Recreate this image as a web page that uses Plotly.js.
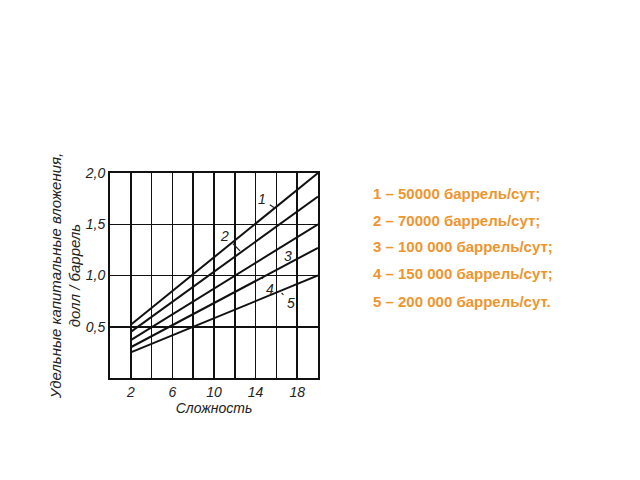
<!DOCTYPE html>
<html>
<head>
<meta charset="utf-8">
<script src="https://cdn.plot.ly/plotly-3.0.1.min.js"></script>
<style>html,body{margin:0;padding:0;background:#fff;}#chart{width:640px;height:480px;}</style>
</head>
<body>
<div id="chart"></div>
<script>
// Data
var complexity = [2, 20];
var line1 = [0.52, 2.00];
var line2 = [0.45, 1.77];
var line3 = [0.37, 1.50];
var line4 = [0.30, 1.27];
var line5 = [0.25, 1.00];
var seriesNames = ['1', '2', '3', '4', '5'];
var legendTexts = [
  '1 – 50000 баррель/сут;',
  '2 – 70000 баррель/сут;',
  '3 – 100 000 баррель/сут;',
  '4 – 150 000 баррель/сут;',
  '5 – 200 000 баррель/сут.'
];
var xTickVals = [2, 6, 10, 14, 18];
var xMinorVals = [4, 8, 12, 16];
var yTickVals = [0.5, 1.0, 1.5, 2.0];
var yTickText = ['0,5', '1,0', '1,5', '2,0'];
// label positions [textX, textY, pointX, pointY]
var labelPos = [
  [14.6, 1.745, 15.8, 1.66],
  [11.05, 1.39, 12.5, 1.24],
  [17.1, 1.19, 16.3, 1.28],
  [15.4, 0.87, 14.6, 0.98],
  [17.4, 0.73, 16.5, 0.83]
];

var series = [line1, line2, line3, line4, line5];
var traces = series.map(function (s, i) {
  return {
    x: complexity, y: s, type: 'scatter', mode: 'lines',
    name: seriesNames[i], showlegend: false, cliponaxis: false,
    line: {color: '#111', width: 2}
  };
});

var italic = {family: 'Liberation Sans, Arial, sans-serif', size: 14, color: '#222', style: 'italic'};
var annotations = labelPos.map(function (p, i) {
  return {
    x: p[2], y: p[3], ax: p[0], ay: p[1], axref: 'x', ayref: 'y', xref: 'x', yref: 'y',
    text: seriesNames[i], showarrow: true, arrowhead: 0, arrowwidth: 1.2, arrowcolor: '#222',
    standoff: 0, startstandoff: 3,
    font: {family: 'Liberation Sans, Arial, sans-serif', size: 14, color: '#222', style: 'italic'}
  };
});
var legY = [0.8997, 0.7696, 0.6395, 0.51, 0.3716];
legendTexts.forEach(function (t, i) {
  annotations.push({
    xref: 'paper', yref: 'paper', x: 1.255, y: legY[i], xanchor: 'left', yanchor: 'middle',
    text: '<b>' + t + '</b>', showarrow: false,
    font: {family: 'Liberation Sans, Arial, sans-serif', size: 15, color: '#EE9530'}
  });
});

var layout = {
  width: 640, height: 480,
  margin: {l: 110, r: 322, t: 173, b: 102},
  paper_bgcolor: '#fff', plot_bgcolor: '#fff',
  showlegend: false,
  xaxis: {
    range: [0, 20], tickvals: xTickVals, ticktext: xTickVals.map(String),
    showgrid: true, gridcolor: '#111', gridwidth: 1.5, zeroline: false,
    showline: true, mirror: true, linecolor: '#111', linewidth: 2,
    ticks: '', tickfont: italic,
    minor: {tickvals: xMinorVals, showgrid: true, gridcolor: '#111', gridwidth: 1.5, ticks: ''},
    title: {text: 'Сложность', font: italic, standoff: 4}
  },
  yaxis: {
    range: [0, 2], tickvals: yTickVals, ticktext: yTickText,
    showgrid: true, gridcolor: '#111', gridwidth: 1.5, zeroline: false,
    showline: true, mirror: true, linecolor: '#111', linewidth: 2,
    ticks: '', tickfont: italic,
    title: {text: 'Удельные капитальные вложения,<br>долл / баррель',
            font: {family: 'Liberation Sans, Arial, sans-serif', size: 15, color: '#222', style: 'italic'}, standoff: 0}
  },
  annotations: annotations
};

Plotly.newPlot('chart', traces, layout, {displayModeBar: false, staticPlot: true});
</script>
</body>
</html>
